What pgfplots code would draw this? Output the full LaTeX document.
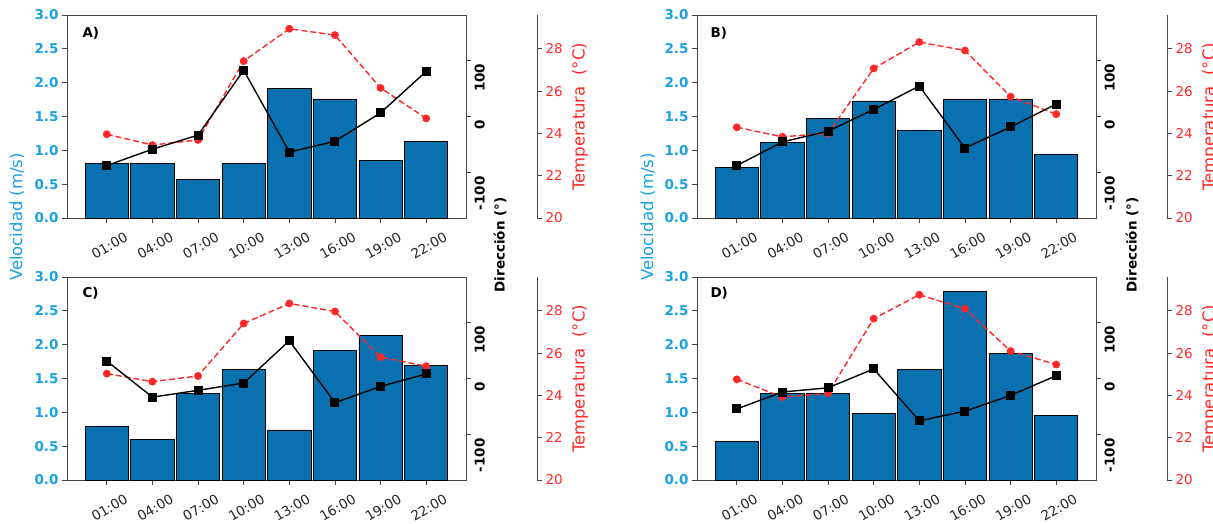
\documentclass[border=0pt]{standalone}
\usepackage{pgfplots}
\pgfplotsset{compat=1.18}
\usepackage{pgfplotstable}
\usepackage{fontspec}
\setmainfont{DejaVu Sans}
\definecolor{barblue}{RGB}{10,113,176}
\definecolor{velblue}{RGB}{24,160,228}
\definecolor{tred}{RGB}{255,40,40}
\definecolor{spine}{RGB}{70,70,70}

\pgfplotstableread{
x vel dir temp
0 0.81 -87 23.96
1 0.81 -58 23.45
2 0.566 -33 23.69
3 0.80 82 27.42
4 1.92 -63 28.95
5 1.76 -44 28.65
6 0.856 6.5 26.15
7 1.13 80 24.71
}\dataA
\pgfplotstableread{
x vel dir temp
0 0.75 -87 24.29
1 1.11 -45 23.84
2 1.47 -26 24.0
3 1.73 12.5 27.07
4 1.29 54 28.32
5 1.76 -56 27.92
6 1.76 -18.5 25.74
7 0.935 22 24.91
}\dataB
\pgfplotstableread{
x vel dir temp
0 0.79 31 25.03
1 0.595 -33 24.65
2 1.28 -21 24.92
3 1.64 -8 27.4
4 0.74 67 28.35
5 1.92 -43 27.97
6 2.13 -14 25.81
7 1.69 8 25.38
}\dataC
\pgfplotstableread{
x vel dir temp
0 0.575 -54 24.76
1 1.28 -24 23.92
2 1.28 -16.5 24.1
3 0.98 17 27.63
4 1.64 -75 28.76
5 2.78 -58 28.1
6 1.87 -30 26.1
7 0.96 5 25.46
}\dataD

\pgfplotsset{
  base/.style={scale only axis, width=399pt, height=203pt, anchor=south west,
    xmin=-0.8725, xmax=7.8725, enlargelimits=false,
    font=\fontsize{13.5}{16}\selectfont,
    /pgf/number format/assume math mode=true,
    tick align=outside, major tick length=5pt,
    axis line style={spine, line width=0.9pt},
    every tick/.style={spine, line width=0.8pt}},
  velax/.style={base, ymin=0, ymax=3,
    ytick={0,0.5,1,1.5,2,2.5,3}, yticklabels={0.0,0.5,1.0,1.5,2.0,2.5,3.0},
    yticklabel style={velblue, font=\fontsize{13.5}{16}\selectfont\bfseries},
    xtick={0,...,7}, xticklabels={01:00,04:00,07:00,10:00,13:00,16:00,19:00,22:00},
    xticklabel style={rotate=30, anchor=center, yshift=-21pt, xshift=-9pt, text=black!85},
    xtick pos=left, ytick pos=left},
  dirax/.style={base, ymin=-180, ymax=180, axis x line=none, axis y line*=right,
    xtick=\empty, ytick={-100,0,100},
    yticklabel style={rotate=90, anchor=north east, font=\fontsize{13.5}{16}\selectfont\bfseries}},
  tempax/.style={base, ymin=20, ymax=29.6, axis x line=none, axis y line*=right,
    xtick=\empty, ytick={20,22,24,26,28},
    every outer y axis line/.append style={xshift=71pt},
    ytick style={xshift=71pt},
    yticklabel style={xshift=71pt, text=tred}},
  barplot/.style={ybar, bar width=0.95, fill=barblue, draw=black, line width=0.8pt},
  tplot/.style={tred, line width=1.4pt, dash pattern=on 6pt off 3pt, mark=*, mark size=3.2pt, mark options={solid, fill=tred, draw=tred}},
  dplot/.style={black, line width=1.4pt, mark=square*, mark size=3.8pt, mark options={solid, fill=black}},
}

\newcommand{\panel}[2]{%
  \begin{axis}[velax, at={#1}]
    \addplot[barplot] table[x=x, y=vel] {#2};
  \end{axis}
  \begin{axis}[tempax, at={#1}]
    \addplot[tplot] table[x=x, y=temp] {#2};
  \end{axis}
  \begin{axis}[dirax, at={#1}]
    \addplot[dplot] table[x=x, y=dir] {#2};
  \end{axis}
}

\begin{document}
\begin{tikzpicture}
\useasboundingbox (0,0) rectangle (1213pt,523pt);
\panel{(67pt,305pt)}{\dataA}
\panel{(697pt,305pt)}{\dataB}
\panel{(67pt,43pt)}{\dataC}
\panel{(697pt,43pt)}{\dataD}
\tikzset{lbl/.style={font=\fontsize{13.5}{16}\selectfont\bfseries, anchor=west}}
\node[lbl] at (79pt,490pt) {A)};
\node[lbl] at (707pt,490pt) {B)};
\node[lbl] at (79pt,230pt) {C)};
\node[lbl] at (707pt,230pt) {D)};
\tikzset{vl/.style={rotate=90, text=velblue, font=\fontsize{16.5}{18}\selectfont}}
\node[vl] at (17pt,306pt) {Velocidad (m/s)};
\node[vl] at (648pt,306pt) {Velocidad (m/s)};
\tikzset{dl/.style={rotate=90, font=\fontsize{13.5}{16}\selectfont\bfseries}}
\node[dl] at (500pt,278pt) {Dirección (°)};
\node[dl] at (1132pt,278pt) {Dirección (°)};
\tikzset{tl/.style={rotate=90, text=tred, font=\fontsize{16.5}{18}\selectfont}}
\node[tl] at (580pt,406pt) {Temperatura\ \ (°C)};
\node[tl] at (580pt,144pt) {Temperatura\ \ (°C)};
\node[tl] at (1210pt,406pt) {Temperatura\ \ (°C)};
\node[tl] at (1210pt,144pt) {Temperatura\ \ (°C)};
\end{tikzpicture}
\end{document}
